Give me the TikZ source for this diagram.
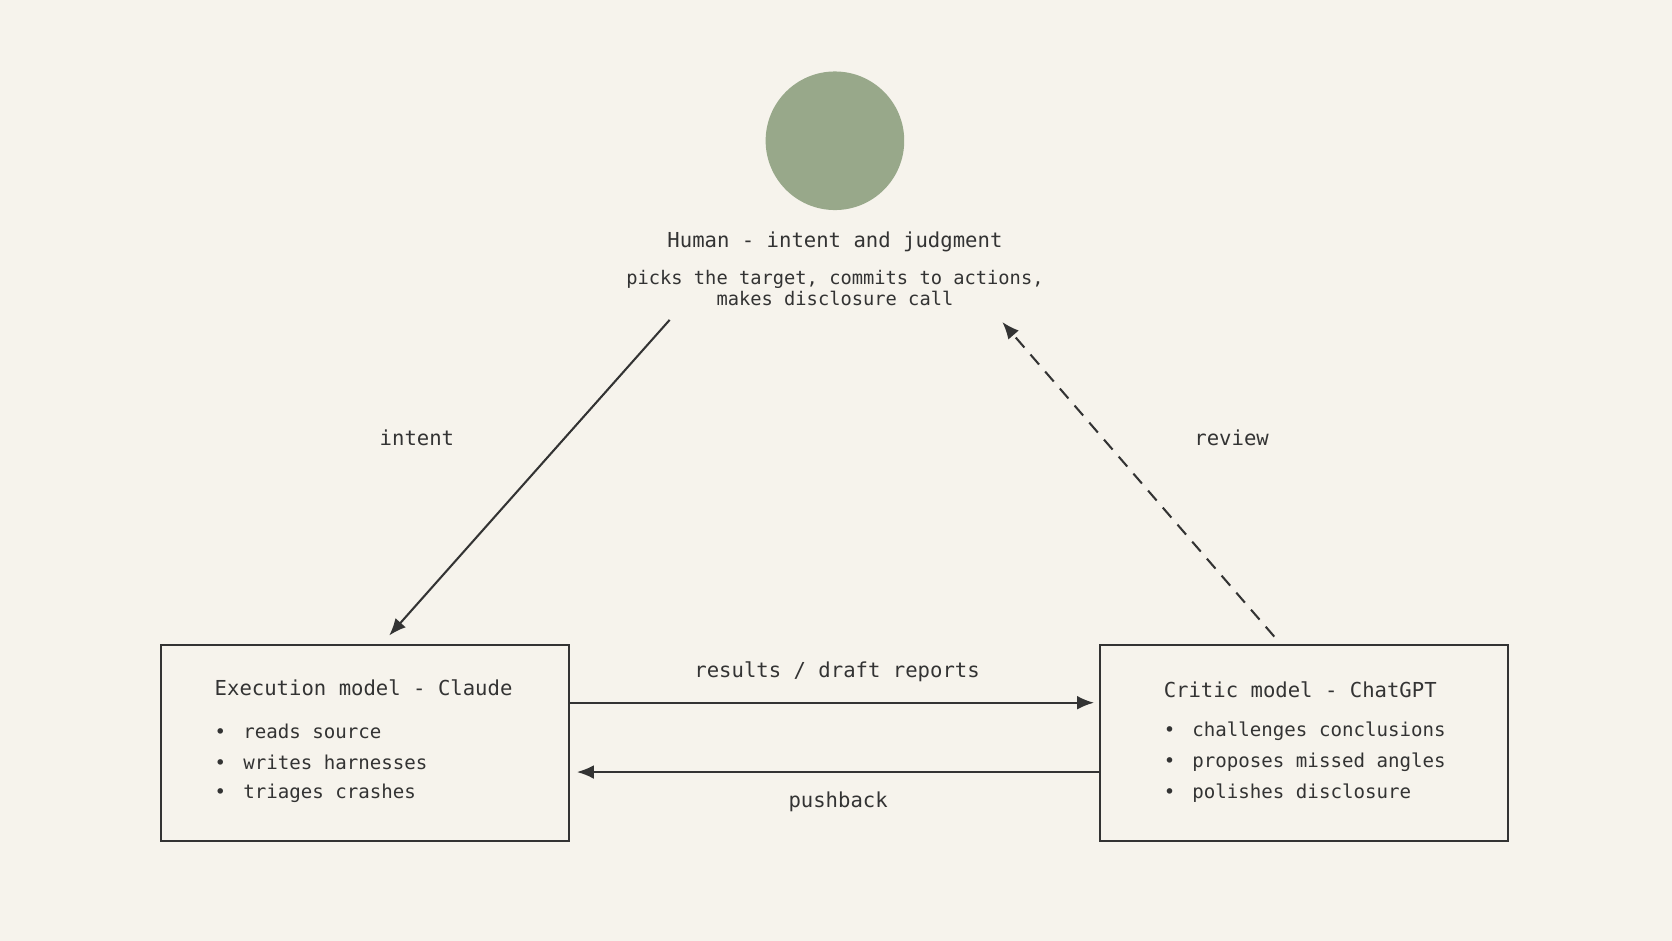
\documentclass[tikz,border=0pt]{standalone}
\usepackage{fontspec}
\setmonofont{DejaVu Sans Mono}
\usetikzlibrary{arrows.meta}
\definecolor{paper}{HTML}{F6F3EC}
\definecolor{ink}{HTML}{333333}
\definecolor{sage}{HTML}{98A88A}
\tikzset{
  agentbox/.style={draw=ink, line width=1.1pt, rectangle, minimum width=7.66cm, minimum height=3.68cm},
  boxtitle/.style={font=\ttfamily\fontsize{11}{13}\selectfont, text=ink, anchor=west, inner sep=0},
  boxitem/.style={font=\ttfamily\fontsize{10.2}{12}\selectfont, text=ink, anchor=west, inner sep=0},
  flow/.style={line width=1.1pt, draw=ink, -{Latex[length=3.2mm,width=2.6mm]}},
  flowlabel/.style={font=\ttfamily\fontsize{11}{13}\selectfont, text=ink}
}
\newcommand{\blt}{\textbullet\hspace{0.9em}}
\begin{document}
\begin{tikzpicture}[x=0.02cm,y=-0.02cm]
    \fill[paper] (0,0) rectangle (1568,882);
    \useasboundingbox (0,0) rectangle (1568,882);

    \node[circle, fill=sage, minimum size=2.6cm, inner sep=0] (human) at (783,132) {};
    \node[flowlabel] (htitle) at (783,227) {Human - intent and judgment};
    \node[boxitem, anchor=center, align=center, font=\ttfamily\fontsize{10}{11.4}\selectfont] (hsub) at (783,270)
      {picks the target, commits to actions,\\makes disclosure call};

    \node[agentbox] (exec) at (342.5,697) {};
    \node[boxtitle] (etitle) at (201,645) {Execution model - Claude};
    \node[boxitem] (e1) at (201,686) {\blt reads source};
    \node[boxitem] (e2) at (201,715) {\blt writes harnesses};
    \node[boxitem] (e3) at (201,744) {\blt triages crashes};

    \node[agentbox] (critic) at (1223,697) {};
    \node[boxtitle] (ctitle) at (1091,647) {Critic model - ChatGPT};
    \node[boxitem] (c1) at (1091,686) {\blt challenges conclusions};
    \node[boxitem] (c2) at (1091,715) {\blt proposes missed angles};
    \node[boxitem] (c3) at (1091,744) {\blt polishes disclosure};

    \coordinate (intentstart) at (628,300);
    \coordinate (intentend) at (365,596);
    \coordinate (reviewstart) at (1195,597);
    \coordinate (reviewend) at (940,302);

    \draw[flow] (intentstart) -- (intentend);
    \draw[flow, dash pattern=on 7pt off 5pt] (reviewstart) -- (reviewend);
    \draw[flow] (exec.east |- 0,659) -- (1026,659);
    \draw[flow] (critic.west |- 0,724) -- (541,724);

    \node[flowlabel] (lintent) at (391,411) {intent};
    \node[flowlabel] (lreview) at (1155,411) {review};
    \node[flowlabel] (lresults) at (785,630) {results / draft reports};
    \node[flowlabel] (lpush) at (786,752) {pushback};
\end{tikzpicture}
\end{document}
